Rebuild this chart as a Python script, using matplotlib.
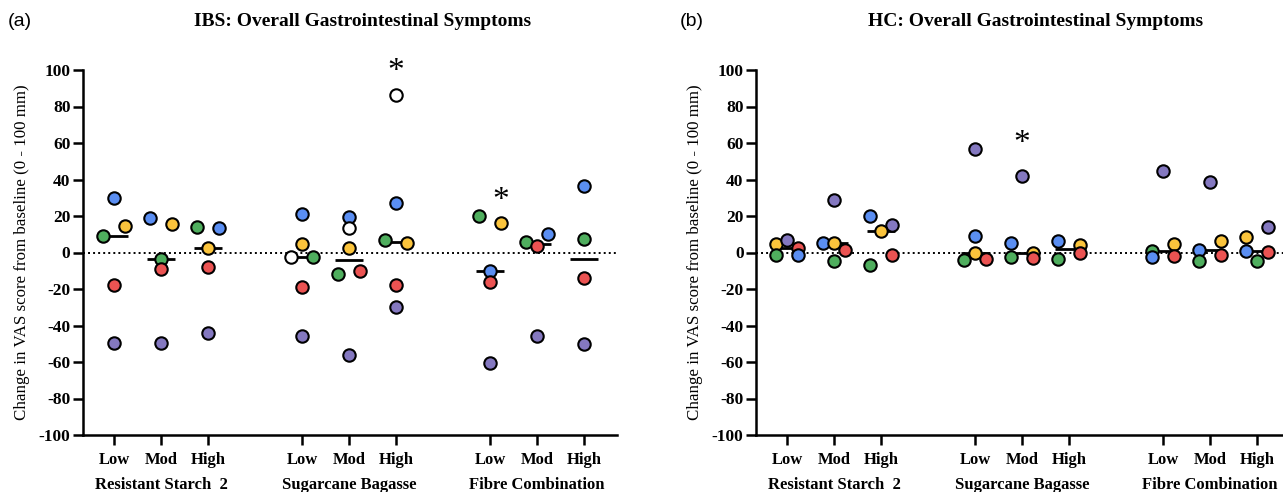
import numpy as np
import matplotlib.pyplot as plt
from matplotlib.transforms import blended_transform_factory

plt.rcParams['font.family'] = 'Liberation Serif'
plt.rcParams['font.weight'] = 'bold'
plt.rcParams['axes.unicode_minus'] = False

nan = np.nan

# groups: RS2 Low/Mod/High, SB Low/Mod/High, FC Low/Mod/High
doses = ['Low', 'Mod', 'High']
fibres = ['Resistant Starch  2', 'Sugarcane Bagasse', 'Fibre Combination']

# IBS participants (change in VAS, mm)
ibs_blue = [30.0, 18.9, 13.2, 20.9, 19.3, 27.0, -10.0, 10.0, 36.6]
ibs_yellow = [14.7, 15.8, 2.6, 4.4, 2.3, 5.0, 16.3, nan, nan]
ibs_green = [9.2, -3.3, 14.1, -2.2, -11.7, 6.6, 20.1, 6.0, 7.2]
ibs_red = [-17.6, -9.1, -7.9, -18.8, -10.2, -17.8, -16.0, 3.3, -13.8]
ibs_purple = [-49.6, -49.6, -44.0, -45.6, -56.0, -30.0, -60.5, -45.6, -50.1]
ibs_white = [nan, nan, nan, -2.5, 13.6, 86.3, nan, nan, nan]

# HC participants
hc_blue = [-1.1, 5.3, 20.1, 9.2, 5.2, 6.2, -2.7, 1.3, 0.9]
hc_yellow = [4.6, 5.0, 11.7, -0.5, -0.2, 4.0, 4.9, 6.2, 8.6]
hc_green = [-1.1, -4.4, -6.8, -4.0, -2.2, -3.5, 0.7, -4.9, -4.9]
hc_red = [2.4, 1.6, -1.6, -3.5, -2.9, -0.4, -2.0, -1.6, 0.4]
hc_purple = [6.6, 28.6, 14.8, 56.6, 42.1, nan, 44.9, 38.5, 14.1]

# significance marks: (group index, participant, height)
ibs_stars = [(5, 'white', 99), (6, 'yellow', 28.5)]
hc_stars = [(4, 'purple', 59.5)]

colours = {'blue': '#5a8ef2', 'yellow': '#fbc43c', 'green': '#4fae5e',
           'red': '#eb5352', 'purple': '#8478c0', 'white': 'white'}
order = ['white', 'green', 'blue', 'yellow', 'purple', 'red']


def swarm(vals, thresh=5.6, half=0.23):
    # simple prism-like spreading of points that sit close together
    pts = sorted([(n, v) for n, v in vals.items() if not np.isnan(v)], key=lambda p: -p[1])
    bins = []
    for n, v in pts:
        if bins and bins[-1][0][1] - v < thresh:
            bins[-1].append((n, v))
        else:
            bins.append([(n, v)])
    offs = {}
    for b in bins:
        b.sort(key=lambda p: order.index(p[0]))
        xs = np.linspace(-half, half, len(b)) if len(b) > 1 else [0.0]
        for (n, v), dx in zip(b, xs):
            offs[n] = dx
    return offs


def draw(ax, data, stars):
    pos = [g * 4 + d + 1 for g in range(3) for d in range(3)]
    ax.axhline(0, color='black', ls=(0, (1, 1.6)), lw=1.4, zorder=1)
    all_offs = []
    for gi, x in enumerate(pos):
        vals = {n: data[n][gi] for n in data}
        offs = swarm(vals)
        all_offs.append(offs)
        med = np.nanmedian(list(vals.values()))
        ax.plot([x - 0.3, x + 0.3], [med, med], color='black', lw=2, zorder=2,
                solid_capstyle='butt')
        for n, dx in offs.items():
            ax.scatter(x + dx, vals[n], s=80, c=colours[n], edgecolors='black',
                       linewidths=1.5, zorder=3)
    for gi, n, h in stars:
        ax.text(pos[gi] + all_offs[gi][n], h, '*', fontsize=24, fontweight='normal',
                ha='center', va='center')

    ax.set_xlim(0.34, 11.7)
    ax.set_ylim(-100, 100)
    ax.set_yticks(range(-100, 101, 20))
    ax.set_xticks(pos)
    ax.set_xticklabels(doses * 3, fontsize=12)
    ax.tick_params(axis='y', labelsize=12.5, width=1.8, length=7, pad=2)
    ax.tick_params(axis='x', width=1.8, length=7, pad=5)
    for s in ['top', 'right']:
        ax.spines[s].set_visible(False)
    for s in ['left', 'bottom']:
        ax.spines[s].set_linewidth(1.8)
    ax.set_ylabel('Change in VAS score from baseline (0 - 100 mm)', fontsize=12.2)
    ax.yaxis.set_label_coords(-0.1, 0.5)
    tr = blended_transform_factory(ax.transData, ax.transAxes)
    for g, name in enumerate(fibres):
        ax.text(g * 4 + 2, -0.137, name, transform=tr, ha='center', va='center',
                fontsize=12, clip_on=False)


fig = plt.figure(figsize=(12.83, 4.92), dpi=100)
ax1 = fig.add_axes([83 / 1283, 57 / 492, 534 / 1283, 365 / 492])
ax2 = fig.add_axes([756 / 1283, 57 / 492, 534 / 1283, 365 / 492])

draw(ax1, {'blue': ibs_blue, 'yellow': ibs_yellow, 'green': ibs_green,
           'red': ibs_red, 'purple': ibs_purple, 'white': ibs_white}, ibs_stars)
draw(ax2, {'blue': hc_blue, 'yellow': hc_yellow, 'green': hc_green,
           'red': hc_red, 'purple': hc_purple}, hc_stars)

fig.text(363 / 1283, 1 - 22 / 492, 'IBS: Overall Gastrointestinal Symptoms',
         ha='center', va='center', fontsize=14)
fig.text(1036 / 1283, 1 - 22 / 492, 'HC: Overall Gastrointestinal Symptoms',
         ha='center', va='center', fontsize=14)
fig.text(20 / 1283, 1 - 22 / 492, '(a)', ha='center', va='center', fontsize=14,
         family='Liberation Sans', fontweight='normal')
fig.text(692 / 1283, 1 - 22 / 492, '(b)', ha='center', va='center', fontsize=14,
         family='Liberation Sans', fontweight='normal')

fig.savefig('out.png', dpi=100)
